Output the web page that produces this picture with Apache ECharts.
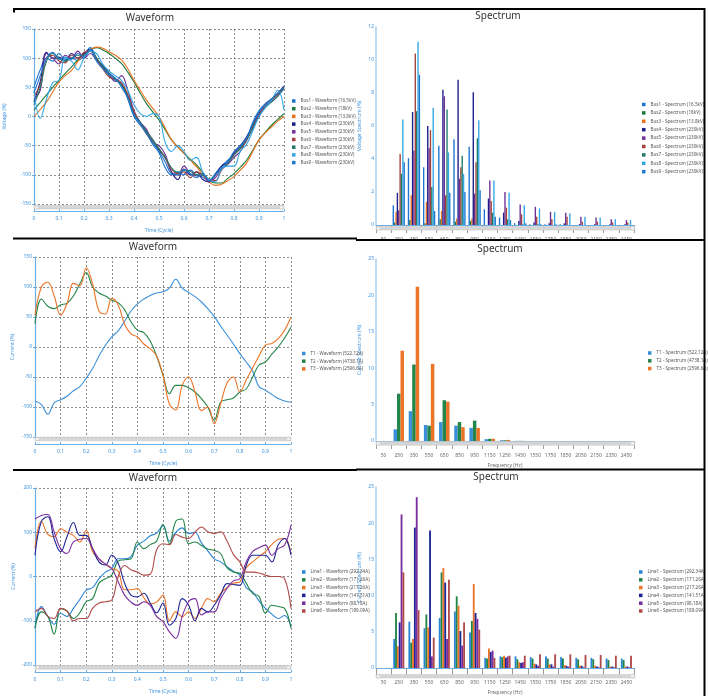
<!DOCTYPE html>
<html>
<head>
<meta charset="utf-8">
<script src="https://cdn.jsdelivr.net/npm/echarts@6/dist/echarts.min.js"></script>
<style>
html,body{margin:0;padding:0;background:#fff;}
#chart{width:708px;height:696px;}
</style>
</head>
<body>
<div id="chart"></div>
<script>
// ---------- shared axes data ----------
const timeCycle = [0,0.025,0.05,0.075,0.1,0.125,0.15,0.175,0.2,0.225,0.25,0.275,0.3,0.325,0.35,0.375,0.4,0.425,0.45,0.475,0.5,0.525,0.55,0.575,0.6,0.625,0.65,0.675,0.7,0.725,0.75,0.775,0.8,0.825,0.85,0.875,0.9,0.925,0.95,0.975,1];
const freqHz = ['50','250','350','550','650','850','950','1150','1250','1450','1550','1750','1850','2050','2150','2350','2450'];

// ---------- bus voltage waveforms (%) ----------
const busNames = ['Bus1','Bus2','Bus3','Bus4','Bus5','Bus6','Bus7','Bus8','Bus9'];
const busKV = ['16.5kV','18kV','13.8kV','230kV','230kV','230kV','230kV','230kV','230kV'];
const busWave1 = [50,80,100,95,108,98,100,96,105,118,100,85,70,62,55,30,0,-15,-28,-48,-62,-88,-100,-95,-100,-92,-100,-104,-110,-98,-85,-75,-65,-52,-40,-10,10,22,30,38,50];
const busWave2 = [11,24,37,50,62,74,85,97,108,115,118,114,108,100,91,76,59,40,22,8,-6,-23,-40,-52,-63,-73,-83,-96,-109,-114,-114,-106,-98,-87,-75,-58,-40,-27,-15,-5,5];
const busWave3 = [0,12,25,42,59,70,79,94,108,115,119,117,111,105,97,82,62,45,28,14,0,-20,-40,-52,-63,-75,-86,-100,-112,-118,-116,-110,-103,-92,-80,-60,-40,-28,-18,-8,0];
const busWave4 = [25,60,110,100,102,95,108,100,108,115,98,88,75,65,55,35,5,-10,-25,-40,-58,-70,-95,-108,-90,-100,-95,-108,-112,-100,-85,-78,-62,-50,-35,-15,5,20,30,40,52];
const busWave5 = [30,45,108,100,90,105,100,112,100,108,96,84,72,60,70,45,10,-10,-22,-45,-50,-65,-95,-100,-85,-98,-102,-100,-112,-105,-90,-82,-70,-60,-40,-20,0,18,25,35,48];
const busWave6 = [35,55,100,105,95,92,105,100,110,112,100,82,68,64,58,38,8,-12,-30,-42,-55,-72,-90,-98,-95,-105,-95,-100,-108,-110,-92,-80,-66,-55,-42,-18,2,20,28,38,50];
const busWave7 = [20,50,95,108,100,95,100,105,105,112,100,86,74,64,54,34,4,-10,-26,-40,-55,-70,-88,-96,-92,-94,-100,-100,-108,-100,-90,-80,-66,-55,-40,-20,0,15,25,35,48];
const busWave8 = [45,-3,30,58,62,100,95,80,100,112,108,90,78,70,62,45,20,5,0,5,0,-45,-60,-50,-60,-75,-70,-95,-108,-112,-90,-85,-85,-60,-48,-25,0,15,28,45,11];
const busWave9 = [40,70,100,110,98,102,98,108,102,115,95,82,72,66,50,32,2,-12,-30,-45,-60,-78,-98,-100,-92,-98,-105,-98,-110,-100,-88,-78,-60,-50,-38,-12,8,20,30,40,50];

// ---------- bus voltage spectrum (%) ----------
const busSpec1 = [0,1.2,4.05,3.5,4.8,5.2,4.75,0.95,0.45,0.1,0.05,0.05,0.05,0,0,0,0];
const busSpec2 = [0,0.15,0.3,0.1,0.35,0.2,0.25,0,0,0,0,0,0,0,0,0,0];
const busSpec3 = [0,0.8,1.8,1.4,0.85,0.4,0.4,0,0,0,0,0,0,0,0,0,0];
const busSpec4 = [0,1.95,6.85,6.0,8.2,8.8,8.05,1.6,0.75,0.25,0.15,0.1,0.1,0.05,0.05,0.05,0.05];
const busSpec5 = [0,0.9,4.5,4.65,7.8,2.8,1.9,2.7,2.0,1.25,1.1,0.8,0.75,0.5,0.45,0.35,0.3];
const busSpec6 = [0,4.3,10.4,5.75,1.8,3.5,3.8,1.45,1.05,0.65,0.5,0.35,0.5,0.2,0.2,0.15,0.15];
const busSpec7 = [0,3.1,6.9,2.3,7.0,4.2,5.25,0.75,0.35,0.05,0.05,0,0,0,0,0,0];
const busSpec8 = [0,6.4,11.1,7.1,4.4,3.1,6.35,2.7,1.95,1.2,1.0,0.8,0.7,0.5,0.45,0.35,0.3];
const busSpec9 = [0,3.8,9.1,0.85,1.95,2.0,2.1,0.5,0.3,0.1,0.05,0.05,0,0,0,0,0];

// ---------- transformer current ----------
const trNames = ['T1','T2','T3'];
const trAmp = ['522.12A','4738.1A','2596.6A'];
const trWave1 = [-90,-96,-112,-93,-88,-82,-73,-66,-52,-36,-15,3,17,27,43,60,72,80,86,90,92,98,113,98,91,84,75,64,51,35,20,5,-11,-25,-40,-66,-72,-79,-86,-90,-92];
const trWave2 = [39,80,68,64,70,73,85,105,124,100,90,85,78,74,62,42,28,24,10,-15,-47,-78,-64,-64,-68,-75,-86,-100,-122,-92,-88,-85,-75,-70,-50,-30,-25,-12,0,15,33];
const trWave3 = [53,100,108,85,53,72,106,102,132,105,60,55,81,70,38,22,17,5,-3,-15,-47,-95,-105,-64,-50,-75,-106,-100,-128,-95,-60,-50,-75,-55,-35,-15,3,6,14,28,50];
const trSpec1 = [0,1.6,4.1,2.2,2.6,2.1,1.8,0.25,0.1,0.02,0,0,0,0,0,0,0];
const trSpec2 = [0,6.5,10.5,2.1,5.6,2.6,2.8,0.3,0.1,0.02,0,0,0,0,0,0,0];
const trSpec3 = [0,12.4,21.2,10.6,5.4,1.9,1.8,0.3,0.15,0.02,0,0,0,0,0,0,0];

// ---------- line current ----------
const lineNames = ['Line1','Line2','Line3','Line4','Line5','Line6'];
const lineAmp = ['292.34A','171.26A','217.26A','141.51A','98.18A','189.09A'];
const lineWave1 = [-117,-68,-90,-108,-83,-90,-72,-52,-31,-25,-5,10,18,40,40,45,71,80,92,98,115,80,100,110,97,100,76,58,40,33,22,12,3,-25,-35,-55,-72,-85,-95,-88,-113];
const lineWave2 = [-117,-80,-90,-130,-72,-78,-95,-82,-57,-50,-15,-5,3,35,38,40,78,63,72,80,118,74,125,130,74,78,70,62,59,52,20,10,7,-15,-38,-45,-83,-65,-68,-72,-117];
const lineWave3 = [63,125,95,90,108,100,93,78,104,56,40,28,18,12,-30,-30,-27,-48,-62,-58,-42,-100,-80,-91,-80,-95,-72,-50,-57,-38,-25,-15,-12,20,33,45,56,72,84,86,52];
const lineWave4 = [48,125,135,85,56,90,122,93,93,63,33,26,48,30,-15,-42,-46,-38,-60,-82,-60,-110,-95,-50,-65,-100,-72,-80,-65,-42,-16,-18,-20,25,48,48,48,33,71,86,48];
const lineWave5 = [130,138,140,100,63,52,78,84,86,63,40,28,18,-12,-42,-58,-65,-57,-65,-90,-102,-125,-140,-90,-57,-50,-87,-80,-80,-50,-27,-10,-5,33,56,65,71,48,63,71,116];
const lineWave6 = [-80,-72,-90,-95,-72,-78,-100,-95,-95,-72,-60,-57,-53,0,25,15,10,3,5,60,74,72,95,89,86,100,112,101,97,101,80,50,33,10,10,8,3,0,0,-5,-72];
const lineSpec1 = [0,4.0,6.4,5.5,6.9,7.8,4.9,1.4,1.6,1.6,1.5,1.6,1.5,1.4,1.4,1.3,1.3];
const lineSpec2 = [0,7.6,3.5,7.4,13.2,9.9,6.5,1.3,1.5,1.2,1.3,1.3,1.3,1.2,1.2,1.1,1.1];
const lineSpec3 = [0,3.0,4.0,5.6,13.8,8.6,11.6,2.7,1.7,0.8,0.6,0.5,0.4,0.3,0.3,0.2,0.2];
const lineSpec4 = [0,6.3,19.4,19.0,11.8,5.1,7.6,2.2,1.4,0.7,0.5,0.5,0.3,0.3,0.2,0.2,0.2];
const lineSpec5 = [0,21.2,23.6,1.6,4.0,3.1,6.8,2.4,1.6,0.8,0.3,0.2,0.2,0.1,0.1,0.1,0.1];
const lineSpec6 = [0,13.2,8.0,4.2,12.2,6.3,5.3,1.4,1.7,1.7,1.9,1.9,1.9,1.8,1.8,1.7,1.7];

// ---------- styling ----------
const FONT = '"Noto Sans", "Open Sans", sans-serif';
const AXIS_BLUE = '#6aaee8';
const LABEL_BLUE = '#3f93dc';
const GRID_DASH = '#707070';
const busColors = ['#1b74cf','#1b7a3c','#e8711b','#1c1c8a','#6e2e93','#a3403b','#1f7a6a','#33a6e4','#1f78cc'];
const trColors = ['#3b8fd8','#23854a','#ec7426'];
const lineColors = ['#2a84d6','#228347','#ec7426','#1f2595','#7a2e9e','#b04a4a'];

const grids = [
  {left: 34, top: 29, width: 250, height: 175},
  {left: 376, top: 27, width: 258, height: 198},
  {left: 35, top: 257, width: 256, height: 180},
  {left: 376, top: 259, width: 258, height: 182},
  {left: 35, top: 488, width: 256, height: 177},
  {left: 376, top: 487, width: 258, height: 187}
];

function waveXAxis(g) {
  return {
    gridIndex: g, type: 'value', min: 0, max: 1, interval: 0.1, offset: 7,
    axisLine: {show: true, onZero: false, lineStyle: {color: AXIS_BLUE, width: 1}},
    axisTick: {show: true, inside: true, length: 2, lineStyle: {color: AXIS_BLUE}},
    axisLabel: {color: LABEL_BLUE, fontSize: 5, margin: 5, fontFamily: FONT,
      formatter: v => String(Math.round(v * 10) / 10)},
    splitLine: {show: true, lineStyle: {color: GRID_DASH, type: [2, 2], width: 0.8}},
    name: 'Time (Cycle)', nameLocation: 'middle', nameGap: 17,
    nameTextStyle: {color: LABEL_BLUE, fontSize: 5, fontFamily: FONT}
  };
}
function waveYAxis(g, min, max, step, name, gap) {
  return {
    gridIndex: g, type: 'value', min: min, max: max, interval: step,
    axisLine: {show: true, onZero: false, lineStyle: {color: AXIS_BLUE, width: 1.2}},
    axisTick: {show: true, length: 2, lineStyle: {color: AXIS_BLUE}},
    axisLabel: {color: LABEL_BLUE, fontSize: 5, margin: 3, fontFamily: FONT},
    splitLine: {show: true, lineStyle: {color: GRID_DASH, type: [2, 2], width: 0.8}},
    name: name, nameLocation: 'middle', nameGap: gap,
    nameTextStyle: {color: LABEL_BLUE, fontSize: 5, fontFamily: FONT}
  };
}
function specXAxis(g, name) {
  return {
    gridIndex: g, type: 'category', data: freqHz,
    axisLine: {show: true, lineStyle: {color: AXIS_BLUE, width: 1}},
    axisTick: {show: true, length: 8, lineStyle: {color: '#9a9a9a'}},
    axisLabel: {color: '#6a6a6a', fontSize: 5, margin: 12, interval: 0, fontFamily: FONT},
    splitLine: {show: false},
    name: name, nameLocation: 'middle', nameGap: 22,
    nameTextStyle: {color: '#6a6a6a', fontSize: 5, fontFamily: FONT}
  };
}
function specYAxis(g, max, step, name) {
  return {
    gridIndex: g, type: 'value', min: 0, max: max, interval: step,
    axisLine: {show: true, lineStyle: {color: '#a9d0f0', width: 1.5}},
    axisTick: {show: false},
    axisLabel: {color: LABEL_BLUE, fontSize: 5, margin: 2, fontFamily: FONT},
    splitLine: {show: false},
    name: name, nameLocation: 'middle', nameGap: 14,
    nameTextStyle: {color: LABEL_BLUE, fontSize: 5, fontFamily: FONT}
  };
}
function waveSeries(name, values, color, axis) {
  return {
    name: name, type: 'line', xAxisIndex: axis, yAxisIndex: axis,
    data: timeCycle.map((t, i) => [t, values[i]]),
    smooth: 0.4, showSymbol: false, symbol: 'none',
    lineStyle: {color: color, width: 1.1}, itemStyle: {color: color}
  };
}
function specSeries(name, values, color, axis, gap) {
  return {
    name: name, type: 'bar', xAxisIndex: axis, yAxisIndex: axis,
    data: values, barGap: 0, barCategoryGap: gap,
    itemStyle: {color: color}
  };
}
function legend(names, left, top, gap) {
  return {
    orient: 'vertical', left: left, top: top, icon: 'rect',
    itemWidth: 3.5, itemHeight: 3.5, itemGap: gap, selectedMode: false,
    textStyle: {fontSize: 4.6, lineHeight: 5, color: '#555', fontFamily: FONT},
    data: names
  };
}

const busWaves = [busWave1,busWave2,busWave3,busWave4,busWave5,busWave6,busWave7,busWave8,busWave9];
const busSpecs = [busSpec1,busSpec2,busSpec3,busSpec4,busSpec5,busSpec6,busSpec7,busSpec8,busSpec9];
const trWaves = [trWave1,trWave2,trWave3];
const trSpecs = [trSpec1,trSpec2,trSpec3];
const lineWaves = [lineWave1,lineWave2,lineWave3,lineWave4,lineWave5,lineWave6];
const lineSpecs = [lineSpec1,lineSpec2,lineSpec3,lineSpec4,lineSpec5,lineSpec6];

const busWaveNames = busNames.map((b, i) => b + ' - Waveform (' + busKV[i] + ')');
const busSpecNames = busNames.map((b, i) => b + ' - Spectrum (' + busKV[i] + ')');
const trWaveNames = trNames.map((b, i) => b + ' - Waveform (' + trAmp[i] + ')');
const trSpecNames = trNames.map((b, i) => b + ' - Spectrum (' + trAmp[i] + ')');
const lineWaveNames = lineNames.map((b, i) => b + ' - Waveform (' + lineAmp[i] + ')');
const lineSpecNames = lineNames.map((b, i) => b + ' - Spectrum (' + lineAmp[i] + ')');

const series = [];
busWaves.forEach((v, i) => series.push(waveSeries(busWaveNames[i], v, busColors[i], 0)));
busSpecs.forEach((v, i) => series.push(specSeries(busSpecNames[i], v, busColors[i], 1, '19%')));
trWaves.forEach((v, i) => series.push(waveSeries(trWaveNames[i], v, trColors[i], 2)));
trSpecs.forEach((v, i) => series.push(specSeries(trSpecNames[i], v, trColors[i], 3, '31%')));
lineWaves.forEach((v, i) => series.push(waveSeries(lineWaveNames[i], v, lineColors[i], 4)));
lineSpecs.forEach((v, i) => series.push(specSeries(lineSpecNames[i], v, lineColors[i], 5, '27%')));

// ---------- decorations: panel titles, scroll bars, frame lines ----------
const graphics = [];
function title(text, x, y) {
  graphics.push({type: 'text', z: 120, style: {text: text, x: x, y: y, textAlign: 'center',
    textVerticalAlign: 'middle', font: '10px ' + FONT, fill: '#333'}});
}
function scrollBar(x, y, w) {
  graphics.push({type: 'rect', z: 90, shape: {x: x, y: y, width: w, height: 3.6},
    style: {fill: '#d6d6d6', stroke: '#c4c4c4', lineWidth: 0.5}});
  graphics.push({type: 'rect', z: 91, shape: {x: x + 0.5, y: y + 0.3, width: 4, height: 3},
    style: {fill: '#f2f2f2', stroke: '#b8b8b8', lineWidth: 0.4}});
  graphics.push({type: 'rect', z: 91, shape: {x: x + w - 4.5, y: y + 0.3, width: 4, height: 3},
    style: {fill: '#f2f2f2', stroke: '#b8b8b8', lineWidth: 0.4}});
}
function frame(x1, y1, x2, y2, w) {
  graphics.push({type: 'line', z: 110, shape: {x1: x1, y1: y1, x2: x2, y2: y2},
    style: {stroke: '#000', lineWidth: w}});
}
title('Waveform', 150, 18);
title('Spectrum', 498, 16);
title('Waveform', 153, 247);
title('Spectrum', 500, 249);
title('Waveform', 153, 478);
title('Spectrum', 496, 477);

scrollBar(34, 205.5, 250);
scrollBar(376, 226.5, 259);
scrollBar(35, 437.2, 256);
scrollBar(376, 441.6, 259);
scrollBar(35, 665.6, 256);
scrollBar(376, 674.4, 259);

// clip the lower half of the first spectrum's frequency labels
graphics.push({type: 'rect', z: 100, shape: {x: 356, y: 240.5, width: 347, height: 5}, style: {fill: '#fff'}});

frame(13, 9, 705, 9, 2);
frame(14, 9, 14, 12.5, 2);
frame(704.5, 8, 704.5, 696, 2);
frame(13, 238.5, 357, 238.5, 2);
frame(356, 240, 704, 240, 2);
frame(13, 470, 357, 470, 2);
frame(356, 469.5, 704, 469.5, 2);

const chart = echarts.init(document.getElementById('chart'), null, {renderer: 'canvas'});
chart.setOption({
  animation: false,
  backgroundColor: '#fff',
  textStyle: {fontFamily: FONT},
  grid: grids.map(g => Object.assign({containLabel: false}, g)),
  xAxis: [waveXAxis(0), specXAxis(1, ''), waveXAxis(2), specXAxis(3, 'Frequency (Hz)'), waveXAxis(4), specXAxis(5, 'Frequency (Hz)')],
  yAxis: [
    waveYAxis(0, -150, 150, 50, 'Voltage (%)', 27),
    specYAxis(1, 12, 2, 'Voltage Spectrum (%)'),
    waveYAxis(2, -150, 150, 50, 'Current (%)', 20),
    specYAxis(3, 25, 5, 'Current Spectrum (%)'),
    waveYAxis(4, -200, 200, 100, 'Current (%)', 19),
    specYAxis(5, 25, 5, 'Current Spectrum (%)')
  ],
  legend: [
    legend(busWaveNames, 287, 93.5, 2.7),
    legend(busSpecNames, 637, 97, 3.4),
    legend(trWaveNames, 297, 346, 2.7),
    legend(trSpecNames, 643, 345.5, 2.8),
    legend(lineWaveNames, 297, 564.5, 2.8),
    legend(lineSpecNames, 634, 564.5, 2.8)
  ],
  graphic: graphics,
  series: series
});
</script>
</body>
</html>
